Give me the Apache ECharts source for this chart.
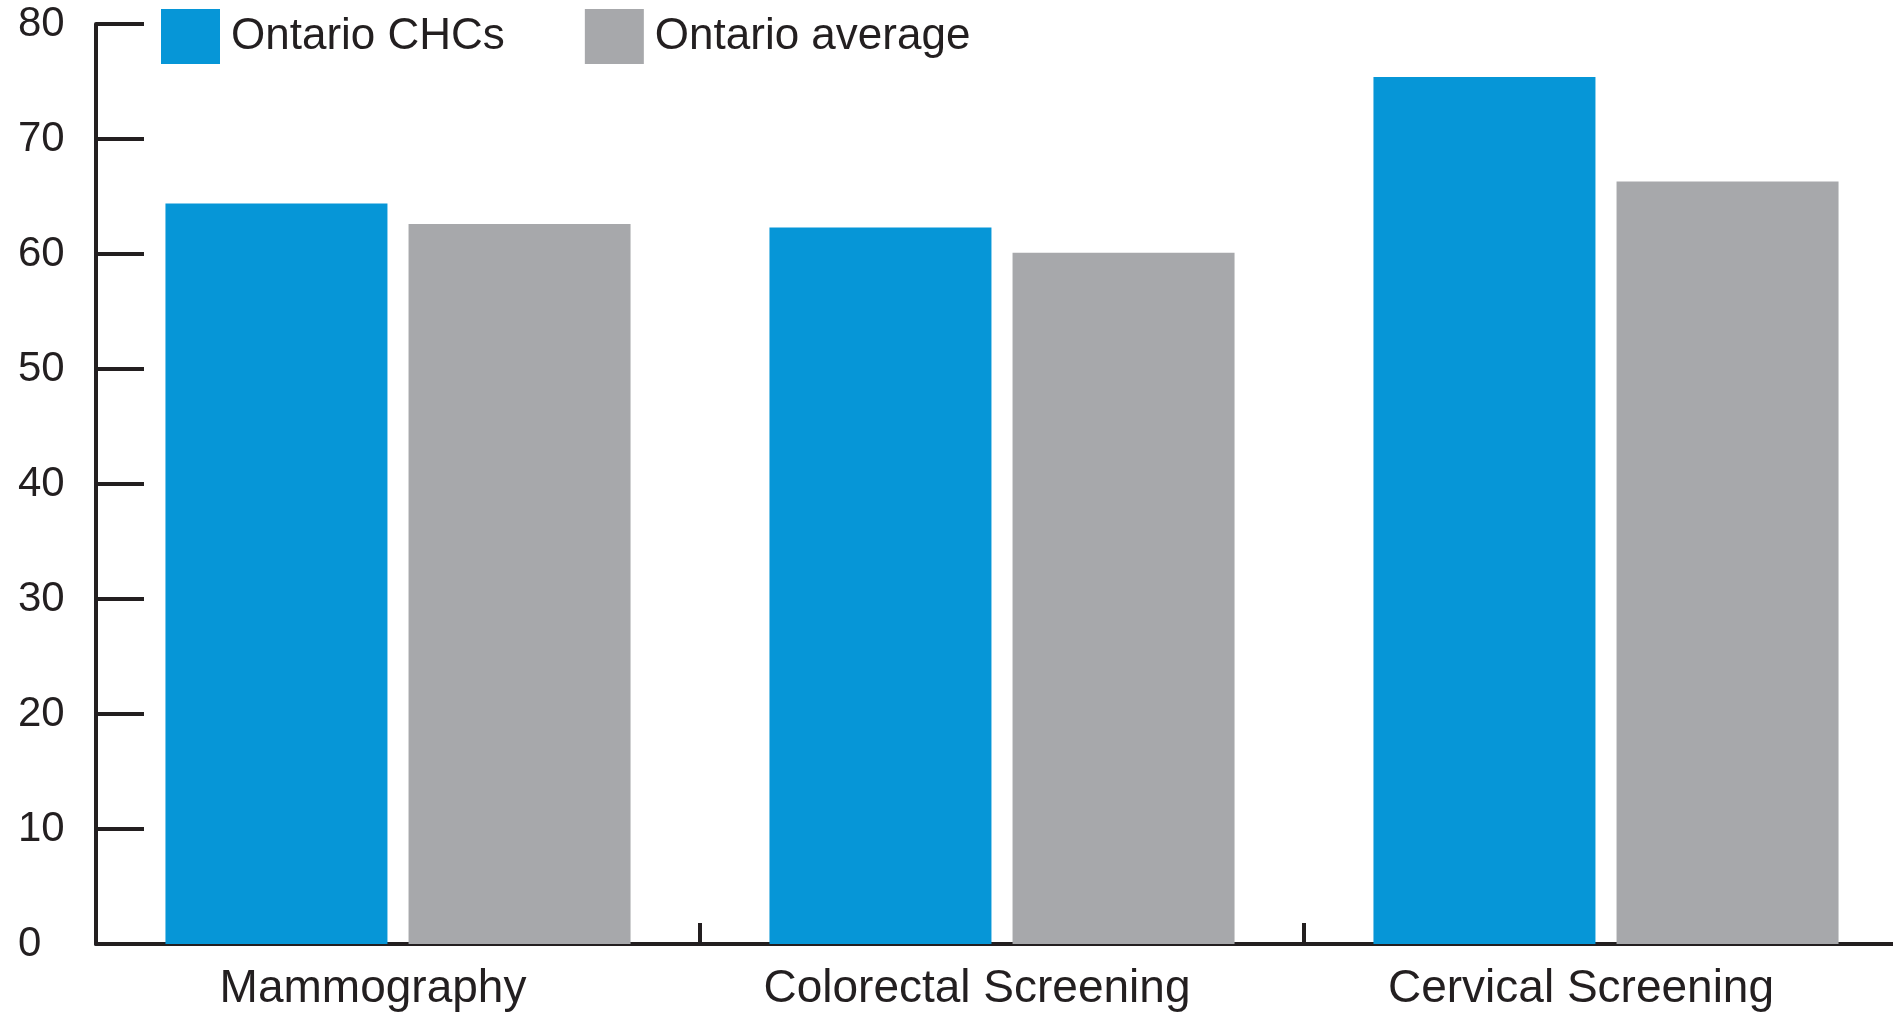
<!DOCTYPE html>
<html>
<head>
<meta charset="utf-8">
<title>Cancer screening rates</title>
<script src="https://cdn.jsdelivr.net/npm/echarts@6/dist/echarts.min.js"></script>
<style>
  html, body { margin: 0; padding: 0; background: #fff; }
  #main { width: 1893px; height: 1012px; }
</style>
</head>
<body>
<div id="main"></div>
<script>
// 数据
var categories = ['Mammography', 'Colorectal Screening', 'Cervical Screening'];
var chcValues = [64.4, 62.3, 75.4];
var avgValues = [62.6, 60.1, 66.3];
var seriesNames = ['Ontario CHCs', 'Ontario average'];
var yTicks = [0, 10, 20, 30, 40, 50, 60, 70, 80];

(function () {
  var myChart = echarts.init(document.getElementById('main'));
  var ink = '#231f20';
  var font = 'Liberation Sans';
  var option = {
    animation: false,
    color: ['#0696d7', '#a7a8ab'],
    legend: {
      left: 161,
      top: 9,
      padding: 0,
      itemWidth: 59,
      itemHeight: 55,
      itemGap: 80,
      icon: 'rect',
      textStyle: {
        color: ink,
        fontFamily: font,
        fontSize: 44,
        padding: [0, 0, 0, 6]
      },
      data: seriesNames
    },
    // 网格放到画布外一点，右侧被截掉
    grid: {
      left: 96,
      top: 24,
      width: 1812,
      height: 920,
      outerBoundsMode: 'none',
      containLabel: false
    },
    xAxis: {
      type: 'category',
      data: categories,
      axisLine: {
        lineStyle: { color: ink, width: 4 }
      },
      axisTick: {
        show: true,
        inside: true,
        alignWithLabel: false,
        length: 21,
        lineStyle: { color: ink, width: 4 }
      },
      axisLabel: {
        color: ink,
        fontFamily: font,
        fontSize: 46,
        margin: 22,
        // 文字整体略偏左
        padding: [0, 50, 0, 0]
      }
    },
    yAxis: {
      type: 'value',
      min: yTicks[0],
      max: yTicks[yTicks.length - 1],
      interval: yTicks[1] - yTicks[0],
      splitLine: { show: false },
      axisLine: {
        show: true,
        lineStyle: { color: ink, width: 4 }
      },
      axisTick: {
        show: true,
        inside: true,
        length: 48,
        lineStyle: { color: ink, width: 4 }
      },
      axisLabel: {
        color: ink,
        fontFamily: font,
        fontSize: 42,
        align: 'left',
        margin: 78,
        padding: [10, 0, 0, 0]
      }
    },
    series: [
      {
        name: seriesNames[0],
        type: 'bar',
        barWidth: 222,
        barGap: '9.5%',
        data: chcValues
      },
      {
        name: seriesNames[1],
        type: 'bar',
        barWidth: 222,
        barGap: '9.5%',
        data: avgValues
      }
    ]
  };

  myChart.setOption(option);
  window.addEventListener('resize', function () {
    myChart.resize();
  });
})();
</script>
</body>
</html>
